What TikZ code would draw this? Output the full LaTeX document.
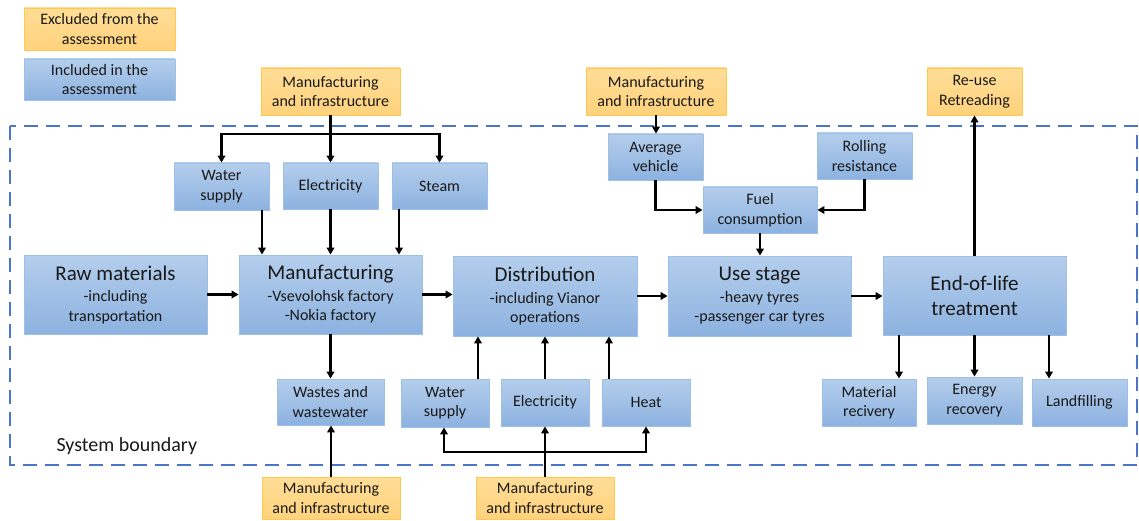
\documentclass[tikz,border=0pt]{standalone}
\usepackage{fontspec}
\setmainfont{Carlito}
\usetikzlibrary{arrows.meta}

\definecolor{bluetop}{HTML}{B4CEEC}
\definecolor{bluebot}{HTML}{8DB2E0}
\definecolor{blueedge}{HTML}{9DC0E7}
\definecolor{orangetop}{HTML}{FFDD97}
\definecolor{orangebot}{HTML}{FFD27C}
\definecolor{orangeedge}{HTML}{FFC94E}
\definecolor{boundcol}{HTML}{4A76C8}

\tikzset{
  txt/.style={font=\fontsize{16}{19.5}\selectfont, text=black!90},
  incbox/.style={txt, draw=blueedge, line width=0.8pt, top color=bluetop,
    bottom color=bluebot, align=center, inner sep=2pt},
  excbox/.style={txt, draw=orangeedge, line width=0.8pt, top color=orangetop,
    bottom color=orangebot, align=center, inner sep=2pt},
  stagebox/.style={incbox},
  arr/.style={-{Triangle[length=7pt,width=7.5pt]}, line width=2.3pt, black},
  bound/.style={draw=boundcol, line width=2.8pt, dash pattern=on 14pt off 8pt},
}
\newcommand{\stagetitle}[1]{{\fontsize{21}{24}\selectfont #1}}

\begin{document}
\begin{tikzpicture}[x=1pt,y=-1pt]
\useasboundingbox (0,0) rectangle (1139,521);

% system boundary
\draw[bound] (10,126) rectangle (1137,465);
\node[txt, anchor=west, font=\fontsize{20}{24}\selectfont] (sb) at (53,446) {System boundary};

% legend
\node[excbox, minimum width=151, minimum height=42] (legex) at (99.5,29) {Excluded from the\\assessment};
\node[incbox, minimum width=151, minimum height=41] (legin) at (99.5,79.5) {Included in the\\assessment};

% upstream of manufacturing
\node[excbox, minimum width=139, minimum height=47] (mi1) at (330.5,91.5) {Manufacturing\\and infrastructure};
\node[incbox, minimum width=95, minimum height=47] (ws1) at (221.5,186.5) {Water\\supply};
\node[incbox, minimum width=95, minimum height=46] (el1) at (330.5,186) {Electricity};
\node[incbox, minimum width=95, minimum height=46] (st1) at (439.5,186) {Steam};

% life cycle stages
\node[stagebox, minimum width=183, minimum height=79] (raw) at (115.5,294.5)
  {\stagetitle{Raw materials}\\[2pt]-including\\transportation};
\node[stagebox, minimum width=183, minimum height=79] (mfg) at (330.5,294.5)
  {\stagetitle{Manufacturing}\\[2pt]-Vsevolohsk factory\\-Nokia factory};
\node[stagebox, minimum width=184, minimum height=80] (dist) at (545,296)
  {\stagetitle{Distribution}\\[2pt]-including Vianor\\operations};
\node[stagebox, minimum width=183, minimum height=80] (use) at (759.5,296)
  {\stagetitle{Use stage}\\[2pt]-heavy tyres\\-passenger car tyres};
\node[stagebox, minimum width=183, minimum height=79, font=\fontsize{21}{25}\selectfont] (eol) at (974.5,295.5)
  {End-of-life\\treatment};

% use stage inputs
\node[excbox, minimum width=140, minimum height=47] (mi2) at (656,91.5) {Manufacturing\\and infrastructure};
\node[incbox, minimum width=95, minimum height=46] (avg) at (655.5,157) {Average\\vehicle};
\node[incbox, minimum width=95, minimum height=46] (roll) at (864.5,156) {Rolling\\resistance};
\node[incbox, minimum width=114, minimum height=46] (fuel) at (760,210) {Fuel\\consumption};

% end of life outputs
\node[excbox, minimum width=95, minimum height=47] (reuse) at (974.5,91.5) {Re-use\\Retreading};
\node[incbox, minimum width=94, minimum height=47] (matrec) at (869,402.5) {Material\\recivery};
\node[incbox, minimum width=95, minimum height=47] (enrec) at (974.5,400.5) {Energy\\recovery};
\node[incbox, minimum width=95, minimum height=47] (land) at (1079.5,402.5) {Landfilling};

% manufacturing wastes
\node[incbox, minimum width=107, minimum height=46] (waste) at (330.5,402) {Wastes and\\wastewater};
\node[excbox, minimum width=138, minimum height=42] (mi3) at (331,498) {Manufacturing\\and infrastructure};

% distribution inputs
\node[incbox, minimum width=88, minimum height=48] (ws2) at (445,403) {Water\\supply};
\node[incbox, minimum width=88, minimum height=47] (el2) at (545,402.5) {Electricity};
\node[incbox, minimum width=88, minimum height=47] (heat) at (646,402.5) {Heat};
\node[excbox, minimum width=138, minimum height=42] (mi4) at (545,498) {Manufacturing\\and infrastructure};

% junction points of the branching connectors
\coordinate (j1) at (330.5,134);
\coordinate (j2) at (545,452);

% connectors: manufacturing inputs
\draw[arr] (mi1.south) -- (el1.north);
\draw[arr] (j1) -| (ws1.north);
\draw[arr] (j1) -| (st1.north);
\draw[arr] ([xshift=40.5pt]ws1.south) -- ([xshift=40.5pt]ws1.south |- mfg.north);
\draw[arr] (el1.south) -- (mfg.north);
\draw[arr] ([xshift=-40.5pt]st1.south) -- ([xshift=-40.5pt]st1.south |- mfg.north);

% connectors: main chain
\draw[arr] (raw.east) -- (mfg.west);
\draw[arr] (mfg.east) -- (mfg.east -| dist.west);
\draw[arr] (dist.east) -- (use.west);
\draw[arr] (use.east) -- (use.east -| eol.west);

% connectors: wastes
\draw[arr] (mfg.south) -- (waste.north);
\draw[arr] (mi3.north) -- (mi3.north |- waste.south);

% connectors: distribution inputs
\draw[arr] (mi4.north) -- (el2.south);
\draw[arr] (j2) -| ([xshift=-1pt]ws2.south);
\draw[arr] (j2) -| (heat.south);
\draw[arr] ([xshift=33pt]ws2.north) -- ([xshift=33pt]ws2.north |- dist.south);
\draw[arr] (el2.north) -- (dist.south);
\draw[arr] ([xshift=-37pt]heat.north) -- ([xshift=-37pt]heat.north |- dist.south);

% connectors: use stage inputs
\draw[arr] (mi2.south) -- (mi2.south |- avg.north);
\draw[arr] (avg.south) |- (fuel.west);
\draw[arr] (roll.south) |- (fuel.east);
\draw[arr] (fuel.south) -- (fuel.south |- use.north);

% connectors: end of life
\draw[arr] (eol.north) -- (reuse.south);
\draw[arr] ([xshift=-75.5pt]eol.south) -- ([xshift=-75.5pt]eol.south |- matrec.north);
\draw[arr] (eol.south) -- (enrec.north);
\draw[arr] ([xshift=74.5pt]eol.south) -- ([xshift=74.5pt]eol.south |- land.north);

\end{tikzpicture}
\end{document}
